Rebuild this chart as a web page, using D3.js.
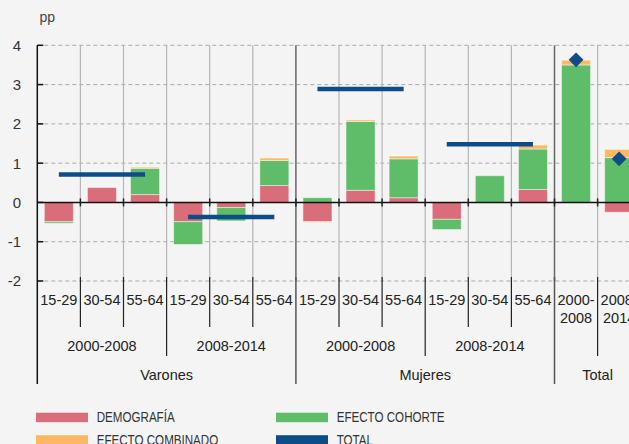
<!DOCTYPE html>
<html>
<head>
<meta charset="utf-8">
<script src="https://cdn.jsdelivr.net/npm/d3@7"></script>
<style>
  html, body { margin: 0; padding: 0; background: #f4f4f4; }
  svg { display: block; }
</style>
</head>
<body>
<div id="chart"></div>
<script>
// ---- data ----
const sexes = ["Varones", "Mujeres", "Total"];
const periods = ["2000-2008", "2008-2014"];
const ages = ["15-29", "30-54", "55-64"];
const categories = [
  "V|2000-2008|15-29", "V|2000-2008|30-54", "V|2000-2008|55-64",
  "V|2008-2014|15-29", "V|2008-2014|30-54", "V|2008-2014|55-64",
  "M|2000-2008|15-29", "M|2000-2008|30-54", "M|2000-2008|55-64",
  "M|2008-2014|15-29", "M|2008-2014|30-54", "M|2008-2014|55-64",
  "T|2000-2008", "T|2008-2014"
];
const categoryLabels = [
  "15-29", "30-54", "55-64", "15-29", "30-54", "55-64",
  "15-29", "30-54", "55-64", "15-29", "30-54", "55-64",
  "2000-\n2008", "2008-\n2014"
];
const demografia = [-0.49, 0.38, 0.20, -0.49, -0.13, 0.43, -0.49, 0.31, 0.12, -0.43, 0.00, 0.33, 0.00, -0.25];
const efectoCohorte = [-0.04, -0.01, 0.67, -0.58, -0.34, 0.64, 0.12, 1.75, 0.99, -0.26, 0.68, 1.03, 3.50, 1.14];
const efectoCombinado = [0.00, 0.00, 0.03, 0.02, 0.00, 0.06, -0.02, 0.04, 0.07, 0.00, 0.00, 0.10, 0.12, 0.21];
// TOTAL: one value per sex/period group (line) and one per Total column (diamond)
const totalGroups = ["V|2000-2008", "V|2008-2014", "M|2000-2008", "M|2008-2014"];
const totalGroupValues = [0.71, -0.37, 2.89, 1.48];
const totalPoints = [3.63, 1.11];
const yTicks = [-2, -1, 0, 1, 2, 3, 4];

const seriesKeys = ["demografia", "cohorte", "combinado"];
const seriesNames = ["DEMOGRAFÍA", "EFECTO COHORTE", "EFECTO COMBINADO", "TOTAL"];
const colors = { demografia: "#d96d7a", cohorte: "#5fbc69", combinado: "#fdb863", total: "#0e4c88" };

// ---- setup ----
const W = 629, H = 444;
const svg = d3.select("#chart").append("svg").attr("width", W).attr("height", H)
  .style("font-family", "'Liberation Sans', Arial, sans-serif");
svg.append("rect").attr("width", W).attr("height", H).attr("fill", "#f4f4f4");

const x0 = 37.3, step = 43.1;
const pad = 0.327;
const x = d3.scaleBand().domain(categories)
  .range([x0, x0 + step * categories.length])
  .paddingInner(pad).paddingOuter(pad / 2);
const y = d3.scaleLinear().domain([-2, 4]).range([281, 45.3]);
const xRight = W;
const edge = i => x0 + i * x.step(); // boundary left of category i

// gridlines
svg.append("g").selectAll("line").data(yTicks.filter(d => d !== 0)).join("line")
  .attr("x1", x0).attr("x2", xRight).attr("y1", d => y(d)).attr("y2", d => y(d))
  .attr("stroke", "#aaa").attr("stroke-width", 1).attr("stroke-dasharray", "4,3");

// vertical separators inside plot
const sexOf = c => c.split("|")[0];
const periodOf = c => c.split("|").slice(0, 2).join("|");
const bounds = [];
for (let i = 1; i < categories.length; i++) {
  const a = categories[i - 1], b = categories[i];
  let level = 0;
  if (sexOf(a) !== sexOf(b)) level = 2;
  else if (periodOf(a) !== periodOf(b)) level = 1;
  bounds.push({ i, level });
}
svg.append("g").selectAll("line").data(bounds).join("line")
  .attr("x1", d => edge(d.i)).attr("x2", d => edge(d.i))
  .attr("y1", y(4)).attr("y2", y(-2))
  .attr("stroke", d => d.level === 2 ? "#666" : "#b5b5b5")
  .attr("stroke-width", d => d.level === 2 ? 1.5 : 1.2);

// stacked bars
const rows = categories.map((c, i) => ({ cat: c, demografia: demografia[i], cohorte: efectoCohorte[i], combinado: efectoCombinado[i] }));
const stacked = d3.stack().keys(seriesKeys).offset(d3.stackOffsetDiverging)(rows);
svg.append("g").selectAll("g").data(stacked).join("g")
  .attr("fill", d => colors[d.key])
  .selectAll("rect").data(d => d).join("rect")
  .attr("x", d => x(d.data.cat))
  .attr("width", x.bandwidth())
  .attr("y", d => y(Math.max(d[0], d[1])))
  .attr("height", d => Math.abs(y(d[0]) - y(d[1])))
  .attr("stroke", "rgba(255,255,255,0.45)").attr("stroke-width", 1);

// zero line
svg.append("line").attr("x1", x0).attr("x2", xRight).attr("y1", y(0)).attr("y2", y(0))
  .attr("stroke", "#111").attr("stroke-width", 1.5);
svg.append("g").selectAll("line").data(bounds).join("line")
  .attr("x1", d => edge(d.i)).attr("x2", d => edge(d.i))
  .attr("y1", y(0) - 4).attr("y2", y(0) + 4)
  .attr("stroke", "#222").attr("stroke-width", 1.5);

// total lines
const totalData = totalGroups.map((g, k) => {
  const cats = categories.filter(c => periodOf(c) === g);
  return { x1: x(cats[0]) + x.bandwidth() / 2, x2: x(cats[cats.length - 1]) + x.bandwidth() / 2, v: totalGroupValues[k] };
});
svg.append("g").selectAll("line").data(totalData).join("line")
  .attr("x1", d => d.x1).attr("x2", d => d.x2)
  .attr("y1", d => y(d.v)).attr("y2", d => y(d.v))
  .attr("stroke", colors.total).attr("stroke-width", 4.5);

// total diamonds
const totalCats = categories.filter(c => sexOf(c) === "T");
svg.append("g").selectAll("path").data(totalCats).join("path")
  .attr("d", d3.symbol().type(d3.symbolSquare).size(110))
  .attr("transform", (d, i) => `translate(${x(d) + x.bandwidth() / 2},${y(totalPoints[i])}) rotate(45)`)
  .attr("fill", colors.total);

// left axis
svg.append("line").attr("x1", x0).attr("x2", x0).attr("y1", y(4)).attr("y2", 384)
  .attr("stroke", "#111").attr("stroke-width", 1.5);
svg.append("g").selectAll("line").data(yTicks).join("line")
  .attr("x1", x0).attr("x2", x0 + 6).attr("y1", d => y(d)).attr("y2", d => y(d))
  .attr("stroke", "#111").attr("stroke-width", 1.5);
svg.append("g").selectAll("text").data(yTicks).join("text")
  .attr("x", 21).attr("y", d => y(d)).attr("dy", "0.36em")
  .attr("text-anchor", "end").attr("font-size", 15).attr("fill", "#333")
  .text(d => d);
svg.append("text").attr("x", 39.5).attr("y", 22).attr("font-size", 14).attr("fill", "#444").text("pp");

// lower separators
const sepTop = 277;
svg.append("g").selectAll("line").data(bounds).join("line")
  .attr("x1", d => edge(d.i)).attr("x2", d => edge(d.i))
  .attr("y1", sepTop).attr("y2", d => d.level === 2 ? 384 : d.level === 1 ? 356 : 327)
  .attr("stroke", d => d.level === 2 ? "#555" : "#222").attr("stroke-width", d => d.level === 2 ? 1.5 : 1.2);

// category labels
const lbl = svg.append("g").selectAll("text").data(categories).join("text")
  .attr("x", d => x(d) + x.bandwidth() / 2)
  .attr("y", 305)
  .attr("text-anchor", "middle").attr("font-size", 14.5).attr("fill", "#222");
lbl.each(function (d, i) {
  const parts = categoryLabels[i].split("\n");
  d3.select(this).selectAll("tspan").data(parts).join("tspan")
    .attr("x", x(d) + x.bandwidth() / 2)
    .attr("dy", (p, j) => j === 0 ? 0 : 17.5)
    .text(p => p);
});

// period labels
const periodGroups = [...totalGroups];
svg.append("g").selectAll("text").data(periodGroups).join("text")
  .attr("x", g => {
    const idx = categories.map((c, i) => periodOf(c) === g ? i : -1).filter(i => i >= 0);
    return (edge(idx[0]) + edge(idx[idx.length - 1] + 1)) / 2;
  })
  .attr("y", 350.5).attr("text-anchor", "middle").attr("font-size", 14.5).attr("fill", "#222")
  .text(g => g.split("|")[1]);

// sex labels
const sexCodes = ["V", "M", "T"];
svg.append("g").selectAll("text").data(sexCodes).join("text")
  .attr("x", (s, k) => {
    const idx = categories.map((c, i) => sexOf(c) === s ? i : -1).filter(i => i >= 0);
    return (edge(idx[0]) + edge(idx[idx.length - 1] + 1)) / 2;
  })
  .attr("y", 379.5).attr("text-anchor", "middle").attr("font-size", 14.5).attr("fill", "#222")
  .text((s, k) => sexes[k]);

// legend
const legendItems = [
  { name: seriesNames[0], color: colors.demografia, col: 0, row: 0 },
  { name: seriesNames[1], color: colors.cohorte, col: 1, row: 0 },
  { name: seriesNames[2], color: colors.combinado, col: 0, row: 1 },
  { name: seriesNames[3], color: colors.total, col: 1, row: 1 }
];
const lg = svg.append("g").selectAll("g").data(legendItems).join("g")
  .attr("transform", d => `translate(${36 + d.col * 240},${412.7 + d.row * 22.5})`);
lg.append("rect").attr("width", 52).attr("height", 9.5).attr("fill", d => d.color);
lg.append("text")
  .attr("transform", "translate(60.7,9.4) scale(0.8,1)")
  .attr("font-size", 14.5).attr("fill", "#333").text(d => d.name);
</script>
</body>
</html>
